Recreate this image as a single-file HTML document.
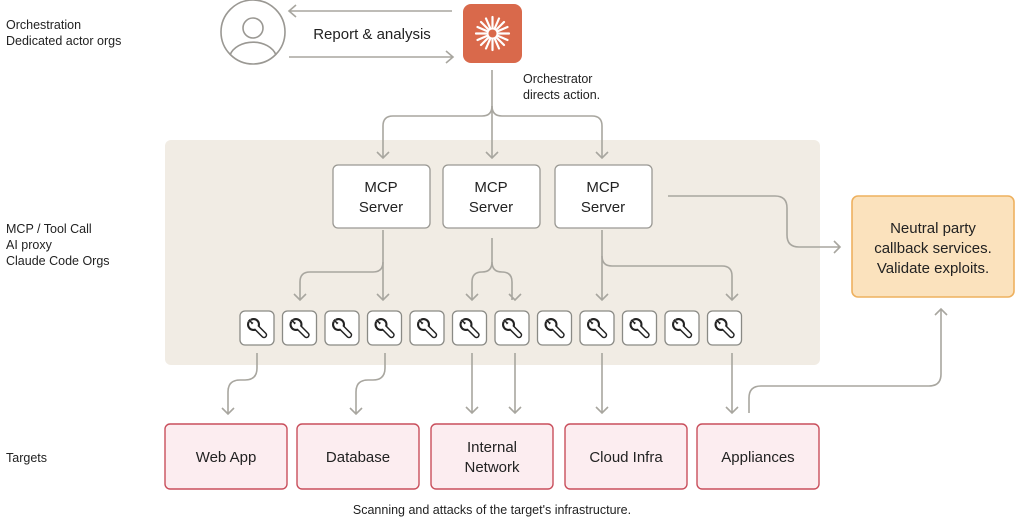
<!DOCTYPE html>
<html><head><meta charset="utf-8"><style>
html,body{margin:0;padding:0;background:#fff}
svg{display:block}
text{font-family:"Liberation Sans",sans-serif;fill:#222}
</style></head><body>
<svg width="1024" height="520" viewBox="0 0 1024 520" xmlns="http://www.w3.org/2000/svg">
<defs>
<g id="wr"><rect x="0" y="0" width="34" height="34" rx="5" fill="#fff" stroke="#8a8a85" stroke-width="1.3"/>
<line x1="14" y1="14" x2="24" y2="24" stroke="#222" stroke-width="6.4" stroke-linecap="round"/>
<circle cx="13.5" cy="13.5" r="6.5" fill="#222"/>
<line x1="14" y1="14" x2="24" y2="24" stroke="#fff" stroke-width="3.4" stroke-linecap="round"/>
<circle cx="13.5" cy="13.5" r="4.4" fill="#fff"/>
<polygon points="13.5,13.5 6,9 9,6" fill="#fff"/>
<path d="M8.3 9.4 L12.5 12 L12 12.5 L9.4 8.3" fill="none" stroke="#222" stroke-width="1.3"/>
</g>
</defs>
<text x="6" y="29" font-size="12.5">Orchestration</text>
<text x="6" y="45" font-size="12.5">Dedicated actor orgs</text>
<text x="6" y="233" font-size="12.5">MCP / Tool Call</text>
<text x="6" y="249" font-size="12.5">AI proxy</text>
<text x="6" y="265" font-size="12.5">Claude Code Orgs</text>
<text x="6" y="462" font-size="12.5">Targets</text>
<rect x="165" y="140" width="655" height="225" rx="6" fill="#f1ece4"/>
<circle cx="253" cy="32" r="32" fill="none" stroke="#9a9893" stroke-width="1.6"/>
<circle cx="253" cy="28" r="10" fill="none" stroke="#9a9893" stroke-width="1.6"/>
<path d="M230 55 a24 18 0 0 1 46 0" fill="none" stroke="#9a9893" stroke-width="1.6"/>
<g stroke="#a8a69f" stroke-width="1.6" fill="none">
<path d="M452 11 H290 M296 5 L289 11 L296 17"/>
<path d="M289 57 H452 M446 51 L453 57 L446 63"/>
</g>
<text x="372" y="39" font-size="15" text-anchor="middle">Report &amp; analysis</text>
<rect x="463" y="4" width="59" height="59" rx="8" fill="#d9694b"/>
<g stroke="#fff" stroke-width="2.2" stroke-linecap="round">
<path d="M492.5 17 V50 M476 33.5 H509 M481 22 L504 45 M504 22 L481 45 M486 18.5 L499 48.5 M499 18.5 L486 48.5 M477.5 27 L507.5 40 M507.5 27 L477.5 40"/>
</g>
<circle cx="492.5" cy="33.5" r="4" fill="#d9694b"/>
<text x="523" y="83" font-size="12.5">Orchestrator</text>
<text x="523" y="99" font-size="12.5">directs action.</text>
<g stroke="#a8a69f" stroke-width="1.6" fill="none">
<path d="M492 70 V158 M486 152 L492 158 L498 152"/>
<path d="M492 106 q0 10 -10 10 H393 q-10 0 -10 10 V158 M377 152 L383 158 L389 152"/>
<path d="M492 106 q0 10 10 10 H592 q10 0 10 10 V158 M596 152 L602 158 L608 152"/>
<path d="M383 230 V262 q0 10 -10 10 H310 q-10 0 -10 10 V300 M294 294 L300 300 L306 294"/>
<path d="M383 262 V300 M377 294 L383 300 L389 294"/>
<path d="M492 238 V262 q0 10 -10 10 q-10 0 -10 10 V300 M466 294 L472 300 L478 294"/>
<path d="M492 262 q0 10 10 10 q10 0 10 10 V300 M509 294 L515 300 L521 294"/>
<path d="M602 230 V300 M596 294 L602 300 L608 294"/>
<path d="M602 256 q0 10 10 10 H722 q10 0 10 10 V300 M726 294 L732 300 L738 294"/>
<path d="M668 196 H775 q12 0 12 12 V235 q0 12 12 12 H840 M834 241 L840 247 L834 253"/>
<path d="M257 353 V368 q0 12 -12 12 H240 q-12 0 -12 12 V414 M222 408 L228 414 L234 408"/>
<path d="M385 353 V368 q0 12 -12 12 H368 q-12 0 -12 12 V414 M350 408 L356 414 L362 408"/>
<path d="M472 353 V413 M466 407 L472 413 L478 407"/>
<path d="M515 353 V413 M509 407 L515 413 L521 407"/>
<path d="M602 353 V413 M596 407 L602 413 L608 407"/>
<path d="M732 353 V413 M726 407 L732 413 L738 407"/>
<path d="M749 413 V398 q0 -12 12 -12 H929 q12 0 12 -12 V309 M935 315 L941 309 L947 315"/>
</g>
<g stroke="#9a9893" stroke-width="1.3" fill="#fff">
<rect x="333" y="165" width="97" height="63" rx="5"/>
<rect x="443" y="165" width="97" height="63" rx="5"/>
<rect x="555" y="165" width="97" height="63" rx="5"/>
</g>
<g font-size="15" text-anchor="middle">
<text x="381" y="192">MCP</text><text x="381" y="212">Server</text>
<text x="491" y="192">MCP</text><text x="491" y="212">Server</text>
<text x="603" y="192">MCP</text><text x="603" y="212">Server</text>
</g>
<use href="#wr" x="240" y="311"/><use href="#wr" x="282.5" y="311"/><use href="#wr" x="325" y="311"/>
<use href="#wr" x="367.5" y="311"/><use href="#wr" x="410" y="311"/><use href="#wr" x="452.5" y="311"/>
<use href="#wr" x="495" y="311"/><use href="#wr" x="537.5" y="311"/><use href="#wr" x="580" y="311"/>
<use href="#wr" x="622.5" y="311"/><use href="#wr" x="665" y="311"/><use href="#wr" x="707.5" y="311"/>
<rect x="852" y="196" width="162" height="101" rx="6" fill="#fbe2bd" stroke="#eeb15f" stroke-width="1.6"/>
<g font-size="15" text-anchor="middle">
<text x="933" y="233">Neutral party</text>
<text x="933" y="253">callback services.</text>
<text x="933" y="273">Validate exploits.</text>
</g>
<g fill="#fcedf0" stroke="#c94f5c" stroke-width="1.4">
<rect x="165" y="424" width="122" height="65" rx="5"/>
<rect x="297" y="424" width="122" height="65" rx="5"/>
<rect x="431" y="424" width="122" height="65" rx="5"/>
<rect x="565" y="424" width="122" height="65" rx="5"/>
<rect x="697" y="424" width="122" height="65" rx="5"/>
</g>
<g font-size="15" text-anchor="middle">
<text x="226" y="462">Web App</text>
<text x="358" y="462">Database</text>
<text x="492" y="452">Internal</text><text x="492" y="472">Network</text>
<text x="626" y="462">Cloud Infra</text>
<text x="758" y="462">Appliances</text>
</g>
<text x="492" y="514" font-size="12.5" text-anchor="middle">Scanning and attacks of the target's infrastructure.</text>
</svg>
</body></html>
